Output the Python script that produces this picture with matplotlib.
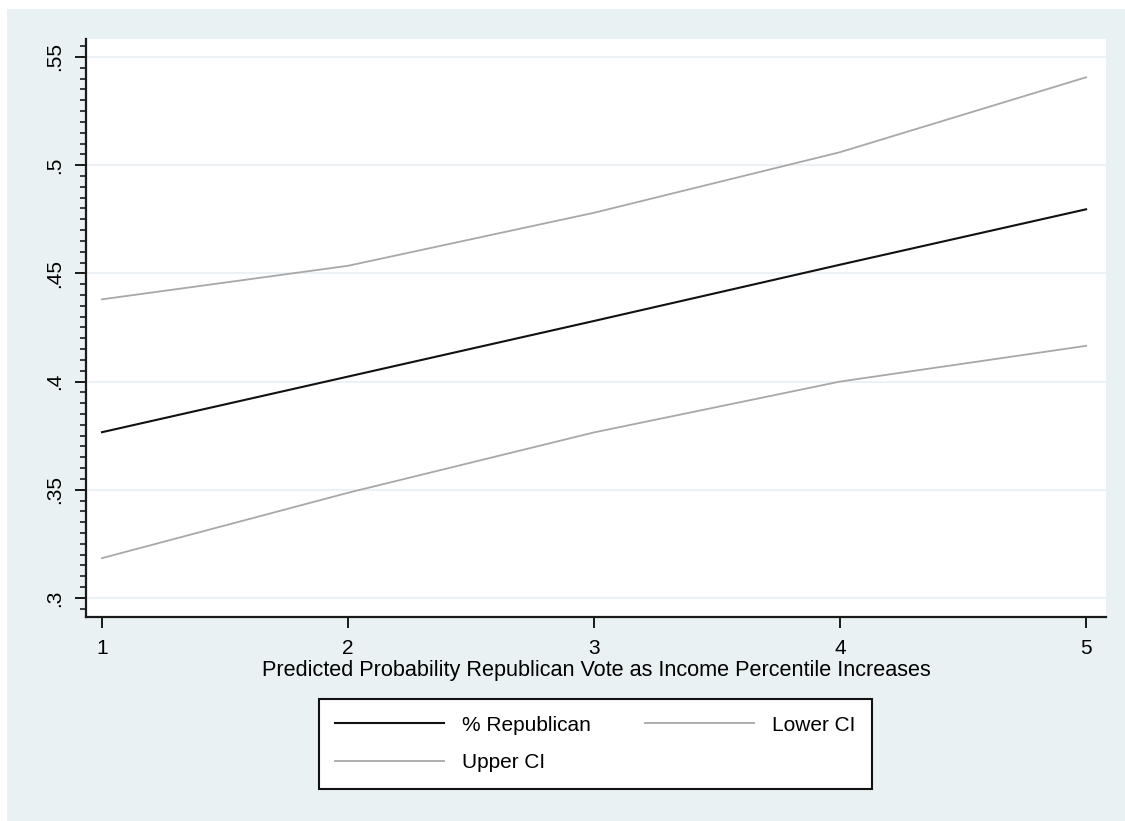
import matplotlib
matplotlib.use("Agg")
import matplotlib.pyplot as plt
from matplotlib.ticker import MultipleLocator, FixedLocator

plt.rcParams['font.family'] = ['Liberation Sans', 'DejaVu Sans']

# Data
income = [1, 2, 3, 4, 5]
pct_republican = [0.3766, 0.4023, 0.4280, 0.4540, 0.4796]
lower_ci = [0.3184, 0.3486, 0.3765, 0.4000, 0.4165]
upper_ci = [0.4380, 0.4535, 0.4780, 0.5060, 0.5406]
y_ticks = [0.30, 0.35, 0.40, 0.45, 0.50, 0.55]
y_tick_labels = ['.3', '.35', '.4', '.45', '.5', '.55']
x_ticks = [1, 2, 3, 4, 5]
x_label = 'Predicted Probability Republican Vote as Income Percentile Increases'
series_labels = ['% Republican', 'Lower CI', 'Upper CI']

W, H = 1125, 821
fig = plt.figure(figsize=(W / 100, H / 100), dpi=100)
fig.patch.set_facecolor('white')

bg = plt.Rectangle((7 / W, 0), 1 - 7 / W, 1 - 9 / H, transform=fig.transFigure,
                   facecolor='#eaf1f3', edgecolor='none', zorder=-10)
fig.patches.append(bg)

ax = fig.add_axes([86 / W, 1 - 617 / H, (1106 - 86) / W, (617 - 39) / H])
ax.set_zorder(1)
ax.set_facecolor('white')

l_rep, = ax.plot(income, pct_republican, color='#111111', lw=1.5, label=series_labels[0], zorder=3)
l_low, = ax.plot(income, lower_ci, color='#a8a8a8', lw=1.3, label=series_labels[1], zorder=3)
l_up, = ax.plot(income, upper_ci, color='#a8a8a8', lw=1.3, label=series_labels[2], zorder=3)

ax.set_xlim(0.935, 5.081)
ax.set_ylim(0.2912, 0.5583)

FS = 15
ax.yaxis.set_major_locator(FixedLocator(y_ticks))
ax.set_yticklabels(y_tick_labels, rotation=90, va='center', fontsize=FS)
ax.yaxis.set_minor_locator(MultipleLocator(0.005))
ax.xaxis.set_major_locator(FixedLocator(x_ticks))
ax.set_xticklabels([str(v) for v in x_ticks], fontsize=FS)

ax.grid(axis='y', which='major', color='#e8eff3', lw=1.2, zorder=1)
for s in ['top', 'right']:
    ax.spines[s].set_visible(False)
for s in ['left', 'bottom']:
    ax.spines[s].set_linewidth(1.6)
    ax.spines[s].set_color('#1a1a1a')

ax.tick_params(axis='y', which='major', length=8, width=1.4, pad=8, color='#1a1a1a')
ax.tick_params(axis='y', which='minor', length=4, width=1.2, color='#1a1a1a')
ax.tick_params(axis='x', which='major', length=8, width=1.4, pad=8, color='#1a1a1a')

ax.set_xlabel(x_label, fontsize=15.6, labelpad=1)

handles = [l_rep, l_up, l_low]
labels = [series_labels[0], series_labels[2], series_labels[1]]
leg = fig.legend(handles, labels, loc='center',
                 bbox_to_anchor=((316 + 875) / 2 / W, 1 - (699 + 789) / 2 / H),
                 ncol=2, fontsize=FS, frameon=True, fancybox=False, framealpha=1,
                 handlelength=5.2, handletextpad=0.9, columnspacing=2.6,
                 labelspacing=0.9, borderpad=0.8, borderaxespad=0)
leg.get_frame().set_edgecolor('#111111')
leg.get_frame().set_linewidth(1.5)
leg.get_frame().set_facecolor('white')

fig.savefig('out.png', dpi=100, facecolor=fig.get_facecolor())
